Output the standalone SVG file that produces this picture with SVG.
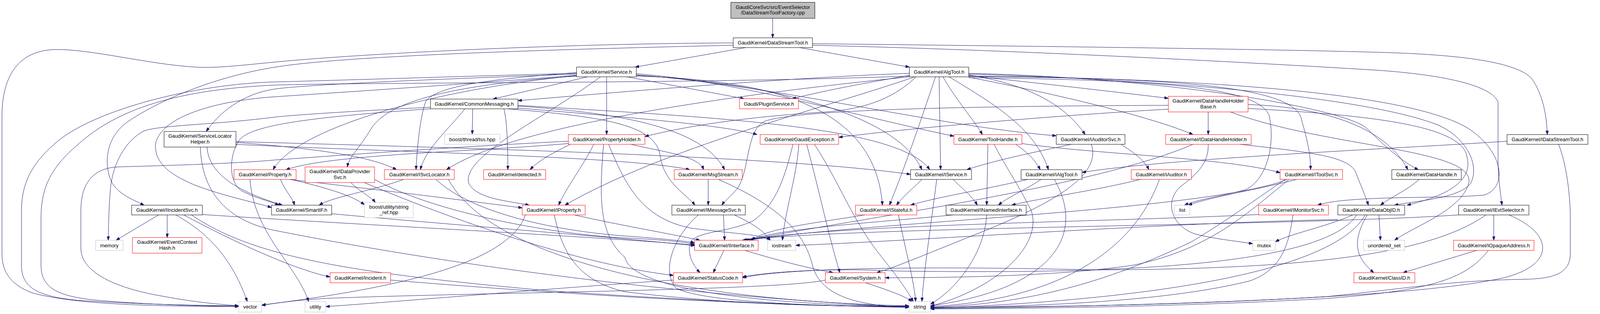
<svg xmlns="http://www.w3.org/2000/svg" width="4231" height="805" viewBox="0 0 4231 805">
<style>
.n rect{fill:#ffffff;stroke:#000000;stroke-width:1}
.r rect{fill:#ffffff;stroke:#ff0000;stroke-width:1}
.g rect{fill:#ffffff;stroke:#bfbfbf;stroke-width:1}
.root rect{fill:#bfbfbf;stroke:#000000;stroke-width:1}
text{font-family:"Liberation Sans",Arial,Helvetica,sans-serif;font-size:13px;fill:#000000;text-anchor:middle}
#edges path{fill:none;stroke:#191970;stroke-width:1;marker-end:url(#a)}
</style>
<defs>
<marker id="a" viewBox="0 0 10 7" refX="10" refY="3.5" markerWidth="10" markerHeight="7" markerUnits="userSpaceOnUse" orient="auto"><path d="M0,0 L10,3.5 L0,7 z" fill="#191970" stroke="#191970" stroke-width="1"/></marker>
</defs>
<rect x="0" y="0" width="4231" height="805" fill="#ffffff"/>
<g id="edges">
<path d="M1978,47 L1978,97"/>
<path d="M1909,122 L1626,172"/>
<path d="M2047,122 L2328,172"/>
<path d="M2080,112 C2600,118 3200,125 3525,134 C3750,140 3880,160 3920,200 C3950,240 3960,300 3961,345"/>
<path d="M2080,116 C2600,128 3200,160 3525,180 C3700,192 3820,220 3835,262 L3835,420 C3837,470 3842,500 3845,526"/>
<path d="M1877,116 C1500,125 900,140 705,172 C560,195 420,250 330,310 C270,350 265,420 285,465 C300,495 335,510 369,526"/>
<path d="M1877,110 C1400,112 900,140 705,159 C620,167 560,175 500,172 C380,165 230,125 140,127 C50,130 5,190 5,300 L5,650 C5,700 30,730 80,750 C200,785 450,785 611,786"/>
<path d="M1504,197 L1262,254"/>
<path d="M1605,197 L1905,253"/>
<path d="M1553,197 L1553,345"/>
<path d="M1476,190 C1200,200 800,215 705,228 C620,240 560,290 528,337"/>
<path d="M1629,192 C2000,220 2400,325 2704,348"/>
<path d="M1629,189 C1900,210 2200,300 2442,349"/>
<path d="M1476,194 C1100,230 760,330 699,435"/>
<path d="M1476,195 C1200,215 1000,250 950,330 C920,380 895,400 889,428"/>
<path d="M1476,186 C1300,200 1120,215 1090,260 C1075,300 1068,380 1065,435"/>
<path d="M1537,197 C1400,300 1180,400 1200,470 C1220,510 1300,515 1355,526"/>
<path d="M1629,193 C2000,215 2300,300 2360,435"/>
<path d="M1629,195 C1950,205 2240,260 2259,526"/>
<path d="M1476,193 C1200,215 900,235 705,248 C550,258 410,300 398,370 C395,420 440,450 500,475 C580,505 640,515 695,532"/>
<path d="M1476,188 C1200,195 900,205 705,210 C500,215 250,280 150,360 C90,410 55,460 55,540 L55,680 C55,740 100,760 200,770 C350,780 500,783 611,784"/>
<path d="M2328,188 C2000,200 1600,235 1326,258"/>
<path d="M2330,193 C2200,215 2100,235 2028,253"/>
<path d="M2345,197 C2280,260 2200,280 2115,287 C1900,300 1750,325 1651,350"/>
<path d="M2480,194 C2650,212 2850,235 2991,252"/>
<path d="M2480,198 C2700,240 2950,300 3054,345"/>
<path d="M2414,197 C2450,260 2495,310 2515,345"/>
<path d="M2480,192 C2620,215 2720,260 2778,345"/>
<path d="M2404,197 L2408,435"/>
<path d="M2430,197 C2550,270 2650,330 2684,435"/>
<path d="M2395,197 C2360,300 2320,420 2277,526"/>
<path d="M2480,196 C2950,200 3300,215 3330,300 C3350,370 3355,400 3355,435"/>
<path d="M2480,195 C3000,200 3600,230 3760,330 C3850,390 3860,480 3800,500 C3700,510 3450,500 3373,526"/>
<path d="M2480,190 C3000,205 3500,250 3680,320 C3750,350 3790,420 3765,470 C3735,510 3620,515 3570,526"/>
<path d="M2480,188 C3000,200 3450,280 3500,330 C3560,390 3600,420 3631,435"/>
<path d="M2480,199 C2950,205 3230,220 3250,300 C3265,380 3240,460 3190,486 C3120,505 3070,510 3032,526"/>
<path d="M2342,197 C2100,280 1700,380 1446,526"/>
<path d="M2328,197 C1800,250 1300,330 1143,435"/>
<path d="M2328,195 C1800,215 1000,210 705,218 C450,230 300,280 200,370 C130,430 105,480 105,560 L105,680 C105,740 150,760 250,770 C400,782 520,785 611,785"/>
<path d="M1210,279 L1209,344"/>
<path d="M1102,275 C900,285 750,295 705,300 C550,320 420,320 370,335 C320,360 290,420 283,480 C278,540 278,580 277,616"/>
<path d="M1326,277 C1600,300 1850,320 1938,345"/>
<path d="M1300,279 C1550,300 1680,320 1690,400 C1700,470 1760,500 1779,526"/>
<path d="M1190,279 C1150,330 1090,380 1076,435"/>
<path d="M1326,272 C1600,290 1800,330 1855,435"/>
<path d="M1102,279 C800,300 640,320 612,360 C585,400 585,470 620,490 C660,510 690,515 714,526"/>
<path d="M1290,279 C1300,320 1300,400 1300,435"/>
<path d="M1326,270 C1800,300 2300,320 2380,435"/>
<path d="M3093,287 L3093,345"/>
<path d="M2991,280 C2800,290 2400,320 2147,352"/>
<path d="M2991,270 C2500,272 2050,280 1960,310 C1910,330 1920,430 1890,480 C1870,505 1855,515 1848,526"/>
<path d="M3195,268 C3400,275 3550,330 3604,435"/>
<path d="M3195,278 C3500,295 3740,320 3755,400 C3775,470 3690,505 3602,526"/>
<path d="M3150,287 C3400,380 3780,380 3760,470 C3740,540 3620,580 3570,616"/>
<path d="M604,365 C800,380 950,400 1015,435"/>
<path d="M604,363 C1200,380 2000,400 2331,447"/>
<path d="M604,370 C1000,390 1600,400 1766,435"/>
<path d="M530,377 C535,460 640,500 723,526"/>
<path d="M513,377 C515,470 560,560 700,590 C1000,650 1600,750 2327,788"/>
<path d="M1520,370 C1490,430 1450,480 1430,526"/>
<path d="M1455,368 C1200,390 850,395 732,435"/>
<path d="M1460,370 C1420,390 1380,410 1357,435"/>
<path d="M1615,370 C1700,390 1790,400 1801,435"/>
<path d="M1558,370 C1600,470 1640,560 1770,585 C1880,600 1950,600 1972,616"/>
<path d="M1545,370 C1535,500 1530,600 1600,660 C1620,760 2100,785 2327,785"/>
<path d="M1455,362 C1100,380 850,400 705,410 C600,420 400,425 300,428 C230,432 207,480 207,540 L207,636 C207,700 300,740 420,760 C500,775 560,780 611,784"/>
<path d="M2030,370 C2010,450 1990,520 1930,565 C1860,600 1770,590 1765,630 C1762,660 1778,685 1792,699"/>
<path d="M2045,370 C2040,450 2010,540 2003,616"/>
<path d="M2065,370 C2100,500 2120,600 2150,699"/>
<path d="M2085,370 C2150,470 2180,560 2250,650 C2290,700 2320,740 2338,773"/>
<path d="M2529,370 L2526,526"/>
<path d="M2600,370 C2630,390 2650,410 2663,435"/>
<path d="M2616,368 C2800,395 3150,405 3277,443"/>
<path d="M2545,370 C2570,420 2605,470 2640,540 C2670,630 2550,740 2382,785"/>
<path d="M2742,370 C2650,390 2550,410 2475,435"/>
<path d="M2870,370 C2900,390 2930,410 2941,435"/>
<path d="M2794,370 C2820,450 2700,520 2500,600 C2350,660 2280,690 2244,699"/>
<path d="M3175,370 C3350,390 3450,400 3470,440 C3485,480 3495,500 3503,526"/>
<path d="M3054,370 C2800,480 2200,560 1910,616"/>
<path d="M3093,370 C3095,420 3060,450 3020,480 C2980,520 3000,580 3060,600 C3120,615 3170,618 3207,625"/>
<path d="M3858,362 C3600,380 3000,405 2770,442"/>
<path d="M3990,370 C4010,420 4020,500 4020,560 L4020,650 C4020,700 3980,715 3900,716 C3700,720 3600,740 3400,760 C3000,785 2600,787 2382,788"/>
<path d="M718,460 C730,490 748,505 754,526"/>
<path d="M745,460 C830,480 900,500 933,525"/>
<path d="M740,460 C1000,490 1200,515 1337,533"/>
<path d="M640,460 C650,600 760,680 790,773"/>
<path d="M898,468 C920,490 950,505 961,519"/>
<path d="M932,468 C1200,580 1500,680 1724,706"/>
<path d="M959,460 C1100,540 1400,600 1600,610 C1700,615 1750,620 1778,626"/>
<path d="M1033,460 C950,490 850,505 817,526"/>
<path d="M1116,460 C1200,540 1400,590 1600,605 C1700,612 1750,618 1778,622"/>
<path d="M1148,460 C1250,650 1700,770 2327,784"/>
<path d="M1813,460 L1813,526"/>
<path d="M1839,460 C2000,530 2060,600 2080,680 C2100,760 2200,785 2327,787"/>
<path d="M406,551 L297,616"/>
<path d="M428,551 L428,609"/>
<path d="M450,551 C520,590 590,650 633,773"/>
<path d="M470,551 C600,620 750,690 845,710"/>
<path d="M518,550 C900,575 1500,605 1778,628"/>
<path d="M490,551 C650,660 900,700 1400,745 C1900,780 2200,786 2327,788"/>
<path d="M849,548 C1200,580 1600,610 1778,630"/>
<path d="M1470,551 C1600,580 1720,600 1792,616"/>
<path d="M1419,551 C1440,650 1480,720 1600,748 C1900,785 2200,786 2327,785"/>
<path d="M1345,551 C1300,680 1000,740 670,782"/>
<path d="M1852,551 L1855,616"/>
<path d="M1880,551 C1920,570 1955,590 1972,616"/>
<path d="M1788,551 C1730,600 1690,690 1730,738 C1800,780 2200,787 2327,786"/>
<path d="M2214,551 C2100,570 1960,585 1925,616"/>
<path d="M2300,551 C2320,650 2340,720 2344,773"/>
<path d="M2440,551 C2250,570 1990,585 1920,616"/>
<path d="M2526,551 C2520,650 2450,740 2382,780"/>
<path d="M2631,460 C2500,490 2400,505 2331,526"/>
<path d="M2665,460 C2620,490 2580,505 2556,526"/>
<path d="M2699,460 C2780,600 2700,740 2382,784"/>
<path d="M2360,460 C2330,490 2310,505 2295,526"/>
<path d="M2440,460 C2470,490 2490,505 2502,526"/>
<path d="M2398,460 C2380,600 2365,700 2360,773"/>
<path d="M2919,460 C2800,490 2650,510 2590,526"/>
<path d="M2968,460 C2900,650 2700,770 2382,786"/>
<path d="M3320,460 C3200,490 3100,505 3042,526"/>
<path d="M3295,460 C3100,540 2200,570 1915,616"/>
<path d="M3300,460 C3200,540 3100,640 2900,680 C2700,710 2400,712 2266,712"/>
<path d="M3290,460 C3230,500 3150,560 3050,620 C2800,740 2600,780 2382,788"/>
<path d="M3222,550 C2800,570 2150,575 1905,616"/>
<path d="M3310,551 C3300,620 3285,690 3200,720 C3000,770 2700,785 2382,789"/>
<path d="M3633,460 C3600,490 3560,505 3534,526"/>
<path d="M3463,551 C3400,580 3300,600 3265,620"/>
<path d="M3530,551 L3534,616"/>
<path d="M3500,551 C3460,620 3470,660 3517,699"/>
<path d="M3473,551 C3380,700 2700,700 2300,695 C2100,685 1950,700 1901,710"/>
<path d="M3425,563 C3000,570 2300,620 2037,629"/>
<path d="M3495,551 C3400,720 2800,775 2382,790"/>
<path d="M3734,551 C3300,580 2200,580 1900,616"/>
<path d="M3824,551 L3824,616"/>
<path d="M3804,551 C3650,660 3300,690 2800,692 C2300,680 2000,690 1901,712"/>
<path d="M3863,551 C3980,600 3980,680 3850,712 C3600,770 2800,786 2382,791"/>
<path d="M3780,642 L3592,699"/>
<path d="M3810,642 C3750,720 3650,745 3400,765 C3000,788 2600,791 2382,792"/>
<path d="M1853,642 L1826,699"/>
<path d="M1907,642 C2000,670 2080,690 2133,699"/>
<path d="M1724,718 C1400,740 1000,775 834,786"/>
<path d="M2216,725 C2260,740 2310,755 2335,773"/>
<path d="M2113,718 C2000,745 1200,750 834,765 C750,770 700,778 670,783"/>
<path d="M1000,718 C1500,760 2000,785 2327,787"/>
</g>
<g id="node_root" class="root"><rect x="1871" y="6" width="215" height="41"/><text x="1978.5" y="23">GaudiCoreSvc/src/EventSelector</text><text x="1978.5" y="37">/DataStreamToolFactory.cpp</text></g>
<g id="node_DataStreamTool" class="n"><rect x="1877" y="97" width="203" height="25"/><text x="1978.5" y="114">GaudiKernel/DataStreamTool.h</text></g>
<g id="node_Service" class="n"><rect x="1476" y="172" width="153" height="25"/><text x="1552.5" y="189">GaudiKernel/Service.h</text></g>
<g id="node_AlgTool" class="n"><rect x="2328" y="172" width="152" height="25"/><text x="2404" y="189">GaudiKernel/AlgTool.h</text></g>
<g id="node_CommonMessaging" class="n"><rect x="1102" y="254" width="224" height="25"/><text x="1214" y="271">GaudiKernel/CommonMessaging.h</text></g>
<g id="node_PluginService" class="r"><rect x="1893" y="253" width="151" height="26"/><text x="1968.5" y="270.5">Gaudi/PluginService.h</text></g>
<g id="node_DataHandleHolderBase" class="r"><rect x="2991" y="247" width="204" height="40"/><text x="3093" y="262.5">GaudiKernel/DataHandleHolder</text><text x="3093" y="277.5">Base.h</text></g>
<g id="node_ServiceLocatorHelper" class="n"><rect x="420" y="337" width="184" height="40"/><text x="512" y="352.5">GaudiKernel/ServiceLocator</text><text x="512" y="367.5">Helper.h</text></g>
<g id="node_tss" class="g"><rect x="1138" y="344" width="142" height="26"/><text x="1209" y="361.5">boost/thread/tss.hpp</text></g>
<g id="node_PropertyHolder" class="r"><rect x="1455" y="345" width="196" height="25"/><text x="1553" y="362">GaudiKernel/PropertyHolder.h</text></g>
<g id="node_GaudiException" class="r"><rect x="1946" y="345" width="201" height="25"/><text x="2046.5" y="362">GaudiKernel/GaudiException.h</text></g>
<g id="node_ToolHandle" class="r"><rect x="2442" y="345" width="174" height="25"/><text x="2529" y="362">GaudiKernel/ToolHandle.h</text></g>
<g id="node_IAuditorSvc" class="n"><rect x="2704" y="345" width="176" height="25"/><text x="2792" y="362">GaudiKernel/IAuditorSvc.h</text></g>
<g id="node_IDataHandleHolder" class="r"><rect x="2984" y="345" width="219" height="25"/><text x="3093.5" y="362">GaudiKernel/IDataHandleHolder.h</text></g>
<g id="node_IDataStreamTool" class="n"><rect x="3858" y="345" width="207" height="25"/><text x="3961.5" y="362">GaudiKernel/IDataStreamTool.h</text></g>
<g id="node_Property" class="r"><rect x="599" y="435" width="159" height="25"/><text x="678.5" y="452">GaudiKernel/Property.h</text></g>
<g id="node_IDataProviderSvc" class="r"><rect x="781" y="428" width="178" height="40"/><text x="870" y="443.5">GaudiKernel/IDataProvider</text><text x="870" y="458.5">Svc.h</text></g>
<g id="node_ISvcLocator" class="r"><rect x="984" y="435" width="179" height="25"/><text x="1073.5" y="452">GaudiKernel/ISvcLocator.h</text></g>
<g id="node_detected" class="r"><rect x="1238" y="435" width="159" height="25"/><text x="1317.5" y="452">GaudiKernel/detected.h</text></g>
<g id="node_MsgStream" class="r"><rect x="1726" y="435" width="174" height="25"/><text x="1813" y="452">GaudiKernel/MsgStream.h</text></g>
<g id="node_IService" class="n"><rect x="2331" y="435" width="156" height="25"/><text x="2409" y="452">GaudiKernel/IService.h</text></g>
<g id="node_IAlgTool" class="n"><rect x="2614" y="435" width="156" height="25"/><text x="2692" y="452">GaudiKernel/IAlgTool.h</text></g>
<g id="node_IAuditor" class="r"><rect x="2896" y="435" width="154" height="25"/><text x="2973" y="452">GaudiKernel/IAuditor.h</text></g>
<g id="node_IToolSvc" class="r"><rect x="3277" y="435" width="160" height="25"/><text x="3357" y="452">GaudiKernel/IToolSvc.h</text></g>
<g id="node_DataHandle" class="n"><rect x="3563" y="435" width="178" height="25"/><text x="3652" y="452">GaudiKernel/DataHandle.h</text></g>
<g id="node_IIncidentSvc" class="n"><rect x="337" y="526" width="181" height="25"/><text x="427.5" y="543">GaudiKernel/IIncidentSvc.h</text></g>
<g id="node_SmartIF" class="n"><rect x="695" y="526" width="154" height="25"/><text x="772" y="543">GaudiKernel/SmartIF.h</text></g>
<g id="node_string_ref" class="g"><rect x="933" y="519" width="125" height="39"/><text x="995.5" y="535">boost/utility/string</text><text x="995.5" y="549">_ref.hpp</text></g>
<g id="node_IProperty" class="r"><rect x="1337" y="526" width="161" height="25"/><text x="1417.5" y="543">GaudiKernel/IProperty.h</text></g>
<g id="node_IMessageSvc" class="n"><rect x="1720" y="526" width="188" height="25"/><text x="1814" y="543">GaudiKernel/IMessageSvc.h</text></g>
<g id="node_IStateful" class="r"><rect x="2190" y="526" width="157" height="25"/><text x="2268.5" y="543">GaudiKernel/IStateful.h</text></g>
<g id="node_INamedInterface" class="n"><rect x="2422" y="526" width="205" height="25"/><text x="2524.5" y="543">GaudiKernel/INamedInterface.h</text></g>
<g id="node_list" class="g"><rect x="3007" y="526" width="39" height="25"/><text x="3026.5" y="543">list</text></g>
<g id="node_IMonitorSvc" class="r"><rect x="3222" y="526" width="179" height="25"/><text x="3311.5" y="543">GaudiKernel/IMonitorSvc.h</text></g>
<g id="node_DataObjID" class="n"><rect x="3425" y="526" width="171" height="25"/><text x="3510.5" y="543">GaudiKernel/DataObjID.h</text></g>
<g id="node_IEvtSelector" class="n"><rect x="3734" y="526" width="180" height="25"/><text x="3824" y="543">GaudiKernel/IEvtSelector.h</text></g>
<g id="node_memory" class="g"><rect x="245" y="616" width="70" height="26"/><text x="280" y="633.5">memory</text></g>
<g id="node_EventContextHash" class="r"><rect x="339" y="609" width="178" height="40"/><text x="428" y="624.5">GaudiKernel/EventContext</text><text x="428" y="639.5">Hash.h</text></g>
<g id="node_IInterface" class="r"><rect x="1778" y="616" width="163" height="26"/><text x="1859.5" y="633.5">GaudiKernel/IInterface.h</text></g>
<g id="node_iostream" class="g"><rect x="1965" y="616" width="72" height="26"/><text x="2001" y="633.5">iostream</text></g>
<g id="node_mutex" class="g"><rect x="3207" y="616" width="58" height="26"/><text x="3236" y="633.5">mutex</text></g>
<g id="node_unordered_set" class="g"><rect x="3491" y="616" width="105" height="26"/><text x="3543.5" y="633.5">unordered_set</text></g>
<g id="node_IOpaqueAddress" class="r"><rect x="3721" y="616" width="206" height="26"/><text x="3824" y="633.5">GaudiKernel/IOpaqueAddress.h</text></g>
<g id="node_Incident" class="r"><rect x="845" y="699" width="155" height="26"/><text x="922.5" y="716.5">GaudiKernel/Incident.h</text></g>
<g id="node_StatusCode" class="r"><rect x="1724" y="699" width="177" height="26"/><text x="1812.5" y="716.5">GaudiKernel/StatusCode.h</text></g>
<g id="node_System" class="r"><rect x="2113" y="699" width="153" height="26"/><text x="2189.5" y="716.5">GaudiKernel/System.h</text></g>
<g id="node_ClassID" class="r"><rect x="3466" y="699" width="156" height="26"/><text x="3544" y="716.5">GaudiKernel/ClassID.h</text></g>
<g id="node_vector" class="g"><rect x="611" y="773" width="59" height="27"/><text x="640.5" y="791">vector</text></g>
<g id="node_utility" class="g"><rect x="781" y="773" width="53" height="27"/><text x="807.5" y="791">utility</text></g>
<g id="node_string" class="g"><rect x="2327" y="773" width="55" height="27"/><text x="2354.5" y="791">string</text></g>
</svg>
